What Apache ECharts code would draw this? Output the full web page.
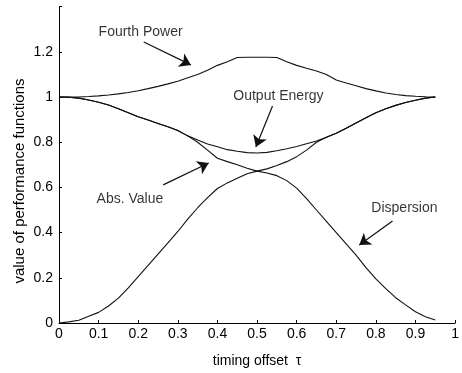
<!DOCTYPE html>
<html>
<head>
<meta charset="utf-8">
<script src="https://cdn.jsdelivr.net/npm/echarts@6/dist/echarts.min.js"></script>
<style>
  html, body { margin: 0; padding: 0; background: #fff; }
  #chart { width: 462px; height: 373px; }
</style>
</head>
<body>
<div id="chart"></div>
<script>
// timing offset samples
const offsets = [0, .025, .05, .075, .1, .125, .15, .175, .2, .225, .25, .275, .3, .325, .35, .375, .4, .425, .45, .475,
  .5, .525, .55, .575, .6, .625, .65, .675, .7, .725, .75, .775, .8, .825, .85, .875, .9, .925, .95];

const fourthPower = [1.0, 1.0, 1.0, 1.002, 1.005, 1.009, 1.014, 1.02, 1.028, 1.037, 1.047, 1.058, 1.07, 1.085, 1.10, 1.118, 1.14, 1.156, 1.175, 1.176,
  1.176, 1.176, 1.175, 1.156, 1.14, 1.127, 1.115, 1.1, 1.075, 1.062, 1.05, 1.037, 1.027, 1.018, 1.011, 1.006, 1.003, 1.001, 1.0];

const outputEnergy = [1.0, 0.999, 0.995, 0.987, 0.977, 0.965, 0.948, 0.93, 0.913, 0.898, 0.883, 0.868, 0.852, 0.828, 0.81, 0.792, 0.78, 0.767, 0.76, 0.754,
  0.752, 0.755, 0.762, 0.771, 0.781, 0.793, 0.805, 0.822, 0.84, 0.862, 0.885, 0.908, 0.93, 0.948, 0.963, 0.976, 0.986, 0.995, 1.0];

const absValue = [1.0, 0.999, 0.995, 0.987, 0.977, 0.965, 0.948, 0.93, 0.913, 0.898, 0.883, 0.868, 0.852, 0.828, 0.80, 0.765, 0.729, 0.714, 0.70, 0.685,
  0.672, 0.682, 0.697, 0.714, 0.736, 0.765, 0.80, 0.822, 0.84, 0.862, 0.885, 0.908, 0.93, 0.948, 0.963, 0.976, 0.986, 0.995, 1.0];

const dispersion = [0, 0.005, 0.012, 0.03, 0.047, 0.075, 0.11, 0.155, 0.205, 0.255, 0.305, 0.355, 0.405, 0.46, 0.51, 0.555, 0.595, 0.62, 0.64, 0.66,
  0.672, 0.664, 0.652, 0.63, 0.597, 0.55, 0.5, 0.45, 0.4, 0.35, 0.3, 0.245, 0.195, 0.152, 0.112, 0.08, 0.05, 0.028, 0.013];

// annotation text positions (data coordinates) and arrows [from, to]
const labelTexts = ['Fourth Power', 'Output Energy', 'Abs. Value', 'Dispersion'];
const labelAt = [[0.206, 1.288], [0.554, 1.004], [0.179, 0.549], [0.872, 0.509]];
const arrows = [
  [[0.214, 1.243], [0.333, 1.142]],
  [[0.539, 0.960], [0.497, 0.779]],
  [[0.263, 0.611], [0.378, 0.708]],
  [[0.842, 0.451], [0.758, 0.345]]
];

const FONT = '"Liberation Sans", Arial, Helvetica, sans-serif';
const INK = '#111';

function pairs(ys) { return offsets.map((x, i) => [x, ys[i]]); }

function curve(name, ys) {
  return {
    name, type: 'line', data: pairs(ys), showSymbol: false, symbol: 'none',
    lineStyle: { color: INK, width: 1.1 }, silent: true, animation: false
  };
}

const chart = echarts.init(document.getElementById('chart'), null, { renderer: 'canvas' });
chart.setOption({
  animation: false,
  backgroundColor: '#fff',
  grid: { left: 59, right: 1, top: 6.6, bottom: 50 },
  xAxis: {
    type: 'value', min: 0, max: 1, interval: 0.1,
    name: 'timing offset  τ', nameLocation: 'middle', nameGap: 31,
    nameTextStyle: { color: '#000', fontFamily: FONT, fontSize: 14 },
    axisLine: { show: true, lineStyle: { color: '#000', width: 1 } },
    axisTick: { show: true, inside: true, length: 3, lineStyle: { color: '#000' } },
    axisLabel: { color: '#000', fontFamily: FONT, fontSize: 14, margin: 4 },
    splitLine: { show: false }
  },
  yAxis: {
    type: 'value', min: 0, max: 1.4, interval: 0.2,
    axisLine: { show: true, lineStyle: { color: '#000', width: 1 } },
    axisTick: { show: true, inside: true, length: 3, lineStyle: { color: '#000' } },
    axisLabel: {
      color: '#000', fontFamily: FONT, fontSize: 14, margin: 6,
      formatter: v => (Math.abs(v - 1.4) < 1e-6 ? '' : String(+v.toFixed(1)))
    },
    splitLine: { show: false }
  },
  graphic: [{
    type: 'text', x: 20, y: 181, rotation: Math.PI / 2,
    style: {
      text: 'value of performance functions', fill: '#000',
      font: '15px ' + FONT, textAlign: 'center', textVerticalAlign: 'middle'
    }
  }],
  series: [
    curve('Fourth Power', fourthPower),
    curve('Output Energy', outputEnergy),
    curve('Abs. Value', absValue),
    curve('Dispersion', dispersion),
    {
      name: 'annotations', type: 'scatter', silent: true,
      symbolSize: 0,
      data: labelAt.map((p, i) => ({ value: p, name: labelTexts[i] })),
      label: {
        show: true, position: 'inside', formatter: p => p.name,
        color: '#000', fontFamily: FONT, fontSize: 14
      },
      markLine: {
        silent: true, animation: false,
        symbol: ['none', 'arrow'], symbolSize: 11,
        label: { show: false },
        lineStyle: { color: INK, width: 1.2, type: 'solid' },
        itemStyle: { color: INK },
        emphasis: { disabled: true },
        data: arrows.map(a => [{ coord: a[0] }, { coord: a[1] }])
      }
    }
  ]
});
</script>
</body>
</html>
